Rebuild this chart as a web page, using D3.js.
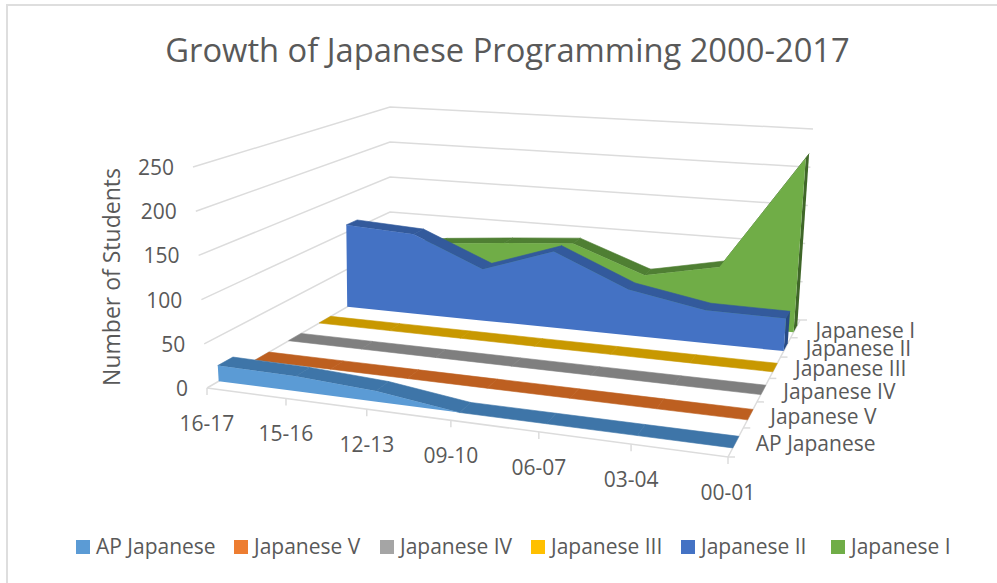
<!DOCTYPE html>
<html><head><meta charset="utf-8">
<script src="https://cdn.jsdelivr.net/npm/d3@7"></script>
<style>html,body{margin:0;padding:0;background:#fff}svg{display:block}text{font-family:"Open Sans",sans-serif;fill:#595959}</style>
</head><body><svg id="c" width="997" height="583"></svg>
<script>
const categories = ["16-17","15-16","12-13","09-10","06-07","03-04","00-01"];
const seriesNames = ["AP Japanese","Japanese V","Japanese IV","Japanese III","Japanese II","Japanese I"];
const apJapanese = [18,17,12,0,0,0,0];
const japaneseV = [0,0,0,0,0,0,0];
const japaneseIV = [0,0,0,0,0,0,0];
const japaneseIII = [0,0,0,0,0,0,0];
const japaneseII = [110,105,67,98,58,41,40];
const japaneseI = [60,75,83,90,56,75,222];
const valueTicks = [0,50,100,150,200,250];
const frontColors = ["#5b9bd5","#ed7d31","#a5a5a5","#ffc000","#4472c4","#70ad47"];
const topColors = ["#3e75a8","#bd5f20","#7f7f7f","#c89800","#335a9c","#4f7f33"];
const sideColors = ["#2e5a85","#9a4d18","#666666","#a07900","#274a85","#3f6628"];
const allValues = [apJapanese,japaneseV,japaneseIV,japaneseIII,japaneseII,japaneseI];

function homography(q){
  const [p0,p1,p2,p3]=q;
  const dx1=p1[0]-p2[0],dx2=p3[0]-p2[0],sx=p0[0]-p1[0]+p2[0]-p3[0];
  const dy1=p1[1]-p2[1],dy2=p3[1]-p2[1],sy=p0[1]-p1[1]+p2[1]-p3[1];
  const det=dx1*dy2-dx2*dy1;
  const g=(sx*dy2-dx2*sy)/det,h=(dx1*sy-sx*dy1)/det;
  const a=p1[0]-p0[0]+g*p1[0],b=p3[0]-p0[0]+h*p3[0],c=p0[0];
  const d=p1[1]-p0[1]+g*p1[1],e=p3[1]-p0[1]+h*p3[1],f=p0[1];
  return (u,v)=>{const w=g*u+h*v+1;return [(a*u+b*v+c)/w,(d*u+e*v+f)/w];};
}
const floorH = homography([[207,388],[728,457],[800,320],[390,282]]);
const ceilH  = homography([[193,167],[745,216],[813,129],[390,107]]);
const xScale = d3.scalePow().exponent(0.98).domain([0,categories.length-1]).range([0,1]);
const depthScale = d3.scaleBand().domain(d3.range(seriesNames.length)).range([0,1]).paddingInner(0.6).paddingOuter(0.3);
const slotScale = d3.scaleLinear().domain([0,seriesNames.length]).range([0,1]);
const valueScale = d3.scaleLinear().domain([0,250]).range([0,1]);
function project(u,d,val){
  const a=floorH(u,d),b=ceilH(u,d),t=valueScale(val);
  return [a[0]+(b[0]-a[0])*t,a[1]+(b[1]-a[1])*t];
}
const svg=d3.select("#c");
const poly=d3.line().curve(d3.curveLinearClosed);
const seg=d3.line();
svg.append("path").attr("d","M7,583V5H997").attr("fill","none").attr("stroke","#dedede").attr("stroke-width",2);
svg.append("text").attr("x",507.5).attr("y",62).attr("text-anchor","middle").attr("font-size",32.7).text("Growth of Japanese Programming 2000-2017");

const grid="#dcdcdc";
valueTicks.forEach(v=>{
  svg.append("path").attr("d",seg([project(0,0,v),project(0,1,v),project(1,1,v)])).attr("fill","none").attr("stroke",grid).attr("stroke-width",1.5);
});
svg.append("path").attr("d",seg([project(0,0,0),project(1,0,0),project(1,1,0)])).attr("fill","none").attr("stroke",grid).attr("stroke-width",1.5);
categories.forEach((c,i)=>{
  const p=project(xScale(i),0,0);
  svg.append("line").attr("x1",p[0]).attr("y1",p[1]).attr("x2",p[0]).attr("y2",p[1]+7).attr("stroke",grid).attr("stroke-width",1.5);
  svg.append("text").attr("x",p[0]).attr("y",p[1]+43).attr("text-anchor","middle").attr("font-size",21).text(c);
});
d3.range(seriesNames.length+1).forEach(i=>{
  const p=project(1,slotScale(i),0);
  svg.append("line").attr("x1",p[0]).attr("y1",p[1]).attr("x2",p[0]+7).attr("y2",p[1]).attr("stroke",grid).attr("stroke-width",1.5);
});
valueTicks.forEach(v=>{
  const p=project(0,0,v);
  svg.append("text").attr("x",p[0]-19).attr("y",p[1]+8).attr("text-anchor","end").attr("font-size",21).text(v);
});
svg.append("text").attr("transform","translate(120,277) rotate(-90)").attr("text-anchor","middle").attr("font-size",23).text("Number of Students");

d3.range(seriesNames.length).reverse().forEach(s=>{
  const vals=allValues[s],d0=depthScale(s),d1=d0+depthScale.bandwidth();
  const g=svg.append("g");
  for(let i=0;i<vals.length-1;i++){
    const u0=xScale(i),u1=xScale(i+1);
    const q=[project(u0,d0,vals[i]),project(u1,d0,vals[i+1]),project(u1,d1,vals[i+1]),project(u0,d1,vals[i])];
    if(d3.polygonArea(q)<=0) continue;
    g.append("path").attr("d",poly(q)).attr("fill",topColors[s]).attr("stroke",topColors[s]).attr("stroke-width",0.6);
  }
  const n=vals.length-1,ue=xScale(n);
  g.append("path").attr("d",poly([project(ue,d0,0),project(ue,d0,vals[n]),project(ue,d1,vals[n]),project(ue,d1,0)])).attr("fill",sideColors[s]);
  const area=d3.area().x0(i=>project(xScale(i),d0,0)[0]).y0(i=>project(xScale(i),d0,0)[1])
    .x1(i=>project(xScale(i),d0,vals[i])[0]).y1(i=>project(xScale(i),d0,vals[i])[1]);
  g.append("path").attr("d",area(d3.range(vals.length))).attr("fill",frontColors[s]);
  const lp=project(1,(d0+d1)/2,0);
  svg.append("text").attr("class","dl").attr("x",lp[0]+20).attr("y",lp[1]+9).attr("font-size",21).text(seriesNames[s]);
});
svg.selectAll("text.dl").raise();

const legendX=[76,234,380,531,681,831];
seriesNames.forEach((n,i)=>{
  svg.append("rect").attr("x",legendX[i]).attr("y",540).attr("width",14).attr("height",14).attr("fill",frontColors[i]);
  svg.append("text").attr("x",legendX[i]+20).attr("y",554).attr("font-size",21).text(n);
});
</script></body></html>
